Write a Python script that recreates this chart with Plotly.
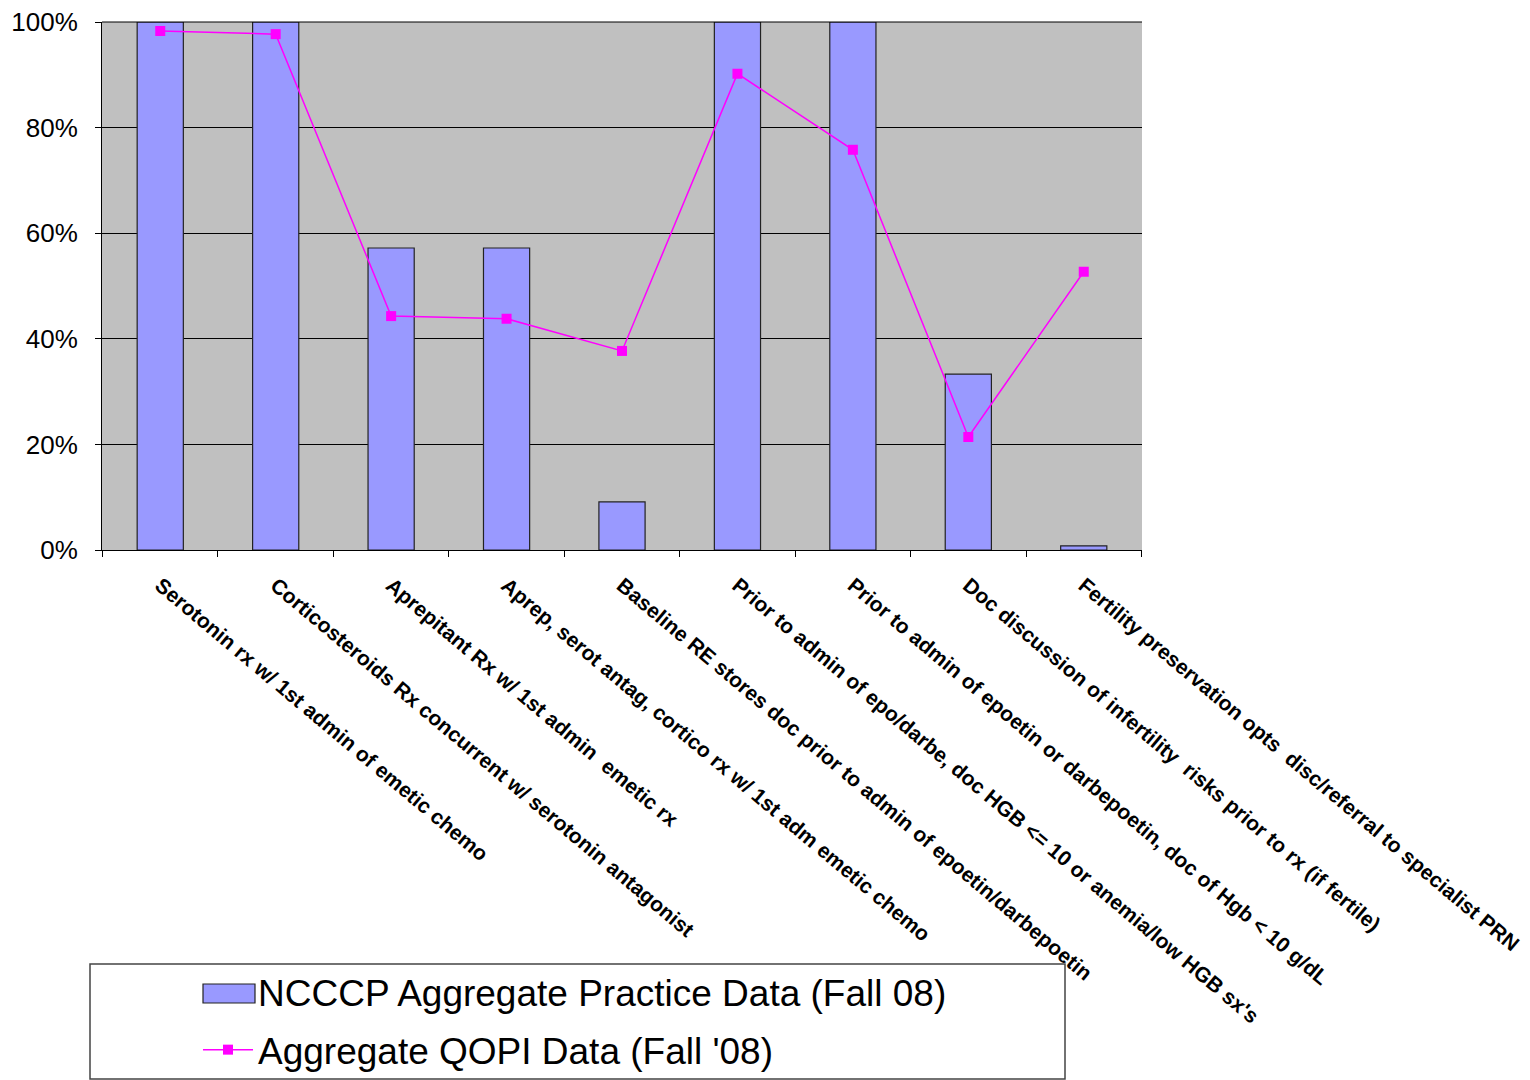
import plotly.graph_objects as go

categories = [
    "Serotonin rx w/ 1st admin of emetic chemo",
    "Corticosteroids Rx concurrent w/ serotonin antagonist",
    "Aprepitant Rx w/ 1st admin  emetic rx",
    "Aprep, serot antag, cortico rx w/ 1st adm emetic chemo",
    "Baseline RE stores doc prior to admin of epoetin/darbepoetin",
    "Prior to admin of epo/darbe, doc HGB <= 10 or anemia/low HGB sx's",
    "Prior to admin of epoetin or darbepoetin, doc of Hgb < 10 g/dL",
    "Doc discussion of infertility  risks prior to rx (if fertile)",
    "Fertility preservation opts  disc/referral to specialist PRN",
]
ncccp = [100, 100, 57.2, 57.2, 9.1, 100, 100, 33.3, 0.8]
qopi = [98.3, 97.7, 44.3, 43.8, 37.7, 90.2, 75.8, 21.4, 52.7]
y_ticks = [0, 20, 40, 60, 80, 100]
y_tick_text = ["0%", "20%", "40%", "60%", "80%", "100%"]
bar_name = "NCCCP Aggregate Practice Data (Fall 08)"
line_name = "Aggregate QOPI Data (Fall '08)"

FONT = "Liberation Sans, Arial, sans-serif"
BAR_COLOR = "#9999FF"

fig = go.Figure()
fig.add_trace(go.Bar(
    x=categories, y=ncccp, name=bar_name,
    marker=dict(color=BAR_COLOR, line=dict(color="#222222", width=1.2)),
    width=0.4, showlegend=False,
))
# legend-only entry for the bars (swatch drawn as a wide rectangle below)
fig.add_trace(go.Scatter(
    x=[None], y=[None], name=bar_name, mode="lines",
    line=dict(color="rgba(0,0,0,0)", width=1),
    legendgroup="a", hoverinfo="skip",
))
fig.add_trace(go.Scatter(
    x=categories, y=qopi, name=line_name,
    mode="lines+markers",
    line=dict(color="#FF00FF", width=1.5),
    marker=dict(symbol="square", size=10, color="#FF00FF"),
    legendgroup="b",
))

OFF = 8  # page body margin
W, H = 1530 - OFF, 1080 - OFF
# plot area in page pixels
PX0, PX1, PY0, PY1 = 102, 1142, 22, 550
L = PX0 - OFF
T = PY0 - OFF
R = W - (PX1 - OFF)
B = H - (PY1 - OFF)
pw = PX1 - PX0
ph = PY1 - PY0

def px_to_paper_x(px):
    return (px - PX0) / pw

def px_to_paper_y(py):
    return (PY1 - py) / ph

fig.update_layout(
    width=W, height=H,
    template="none",
    margin=dict(l=L, r=R, t=T, b=B, autoexpand=False),
    paper_bgcolor="white",
    plot_bgcolor="#C0C0C0",
    font=dict(family=FONT, color="black"),
    showlegend=True,
    legend=dict(
        x=px_to_paper_x(198), y=px_to_paper_y(961),
        xanchor="left", yanchor="top",
        font=dict(size=37, family=FONT, color="black"),
        bgcolor="rgba(0,0,0,0)",
        borderwidth=0,
        tracegroupgap=7,
        itemwidth=50,
        traceorder="grouped",
    ),
    bargap=0.6,
)
# top gridline at 100% (plot frame edge)
fig.add_shape(
    type="line", xref="paper", yref="paper",
    x0=0, x1=1, y0=1, y1=1,
    line=dict(color="black", width=1), layer="above",
)
# legend frame
fig.add_shape(
    type="rect", xref="paper", yref="paper",
    x0=px_to_paper_x(90), x1=px_to_paper_x(1065),
    y0=px_to_paper_y(964), y1=px_to_paper_y(1079),
    line=dict(color="#444444", width=1.5), fillcolor="rgba(0,0,0,0)",
)
# legend swatch for bars
fig.add_shape(
    type="rect", xref="paper", yref="paper",
    x0=px_to_paper_x(203), x1=px_to_paper_x(255),
    y0=px_to_paper_y(984), y1=px_to_paper_y(1003),
    line=dict(color="#222222", width=1.2), fillcolor=BAR_COLOR,
)
fig.update_xaxes(
    type="category",
    tickson="boundaries",
    ticks="outside", ticklen=6, tickcolor="black", tickwidth=1,
    showline=True, linecolor="black", linewidth=1,
    showgrid=False, zeroline=False,
    tickangle=40,
    tickfont=dict(size=21, family=FONT, weight="bold"),
    ticklabelstandoff=14,
    automargin=False,
)
fig.update_yaxes(
    range=[0, 100],
    tickvals=y_ticks, ticktext=y_tick_text,
    ticks="outside", ticklen=6, tickcolor="black",
    showline=True, linecolor="black", linewidth=1,
    showgrid=True, gridcolor="black", gridwidth=1,
    zeroline=False,
    tickfont=dict(size=26, family=FONT),
    ticklabelstandoff=12,
    ticklabeloverflow="allow",
    automargin=False,
)

fig.write_html("out.html")
